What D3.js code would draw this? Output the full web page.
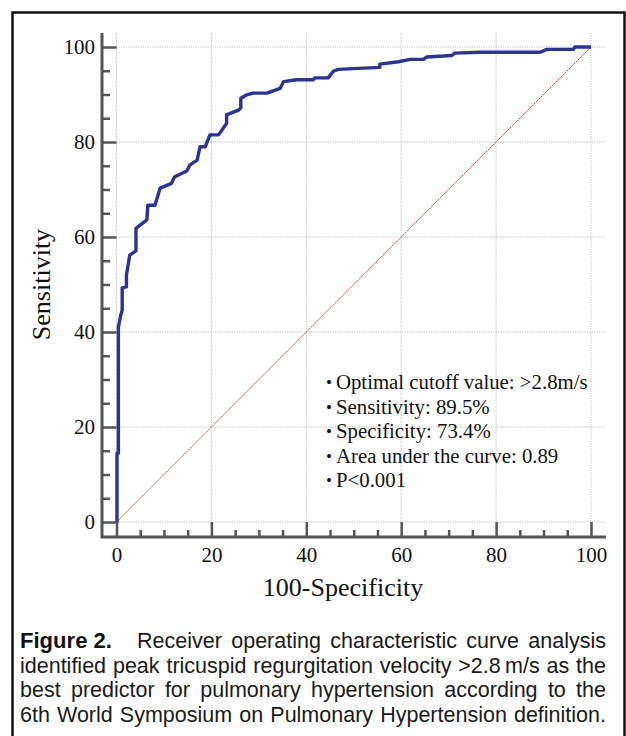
<!DOCTYPE html>
<html>
<head>
<meta charset="utf-8">
<script src="https://cdn.jsdelivr.net/npm/d3@7"></script>
<style>
  html, body { margin: 0; padding: 0; background: #fff; }
  svg { display: block; }
</style>
</head>
<body>
<div id="chart"></div>
<script>
// ROC curve (100-Specificity, Sensitivity)
const fpr = [0, 0.1, 0.1, 0.4, 0.4, 0.9, 1.2, 1.2, 2.1, 2.1, 2.8, 4.1, 4.1, 6.4, 6.6, 8.1, 9.2, 11.6, 11.9, 12.3,
  14.8, 15.5, 17.0, 17.6, 18.7, 19.7, 21.5, 23.2, 23.2, 25.7, 26.2, 26.2, 27.4, 28.8, 31.7, 34.5, 35.2, 38.0,
  41.5, 41.8, 44.6, 45.7, 46.7, 55.5, 55.5, 59.4, 61.9, 64.7, 65.4, 70.6, 71.3, 76.6, 89.3, 90.7, 96.3, 96.6, 100]
const tpr = [0, 0, 14.5, 14.5, 41, 43.6, 44.6, 49.3, 49.5, 52, 56.2, 57.1, 61.8, 63.6, 66.7, 66.7, 70.3, 71.3, 72.0, 72.7,
  73.9, 75.2, 76.2, 79.0, 79.0, 81.5, 81.5, 83.9, 85.7, 86.7, 87.2, 89.2, 89.9, 90.3, 90.3, 91.3, 92.7, 93.1,
  93.1, 93.5, 93.5, 94.9, 95.3, 95.7, 96.4, 96.9, 97.4, 97.4, 97.9, 98.2, 98.7, 98.9, 98.9, 99.5, 99.5, 100, 100]

const majorTicks = [0, 20, 40, 60, 80, 100]
const minorTicks = [5, 10, 15, 25, 30, 35, 45, 50, 55, 65, 70, 75, 85, 90, 95]

const statLines = [
  'Optimal cutoff value: >2.8m/s',
  'Sensitivity: 89.5%',
  'Specificity: 73.4%',
  'Area under the curve: 0.89',
  'P<0.001'
]

const captionLead = 'Figure 2.'
const captionLines = [
  'Receiver operating characteristic curve analysis',
  'identified peak tricuspid regurgitation velocity >2.8\u2009m/s as the',
  'best predictor for pulmonary hypertension according to the',
  '6th World Symposium on Pulmonary Hypertension definition.'
]

const W = 626, H = 736
const serif = '"Liberation Serif", "Times New Roman", serif'
const sans = '"Liberation Sans", Arial, Helvetica, sans-serif'
const axisColor = '#555'

const svg = d3.select('#chart').append('svg')
  .attr('width', W)
  .attr('height', H)

// outer frame (bottom runs off the page)
svg.append('rect')
  .attr('x', 12.5).attr('y', 12.5)
  .attr('width', 612).attr('height', 760)
  .attr('fill', 'none')
  .attr('stroke', '#111')
  .attr('stroke-width', 2.5)

const x = d3.scaleLinear().domain([0, 100]).range([116.5, 591])
const y = d3.scaleLinear().domain([0, 100]).range([522, 47])

const axisX = 102, axisY = 537

// grid
const grid = svg.append('g')
  .attr('stroke', '#bdbdbd')
  .attr('stroke-width', 1)
  .attr('stroke-dasharray', '1.2,1.2')
grid.selectAll('line.h')
  .data(majorTicks)
  .enter().append('line')
    .attr('class', 'h')
    .attr('x1', x(0)).attr('x2', 605)
    .attr('y1', d => y(d)).attr('y2', d => y(d))
grid.selectAll('line.v')
  .data(majorTicks)
  .enter().append('line')
    .attr('class', 'v')
    .attr('y1', 33).attr('y2', y(0))
    .attr('x1', d => x(d)).attr('x2', d => x(d))

// chance diagonal
svg.append('line')
  .attr('x1', x(0)).attr('y1', y(0))
  .attr('x2', x(100)).attr('y2', y(100))
  .attr('stroke', '#c0503a')
  .attr('stroke-width', 1)
  .attr('stroke-dasharray', '2,0.6')

// roc curve
const rocLine = d3.line()
  .x(d => x(d[0]))
  .y(d => y(d[1]))
svg.append('path')
  .datum(fpr.map((v, i) => [v, tpr[i]]))
  .attr('d', rocLine)
  .attr('fill', 'none')
  .attr('stroke', '#2b3493')
  .attr('stroke-width', 3.4)
  .attr('stroke-linejoin', 'round')

// axes
const styleAxis = g => {
  g.select('.domain').remove()
  g.selectAll('line').attr('stroke', axisColor).attr('stroke-width', 2.5)
  g.selectAll('text')
    .attr('fill', '#111')
    .style('font-family', serif)
    .style('font-size', '21px')
}

svg.append('g')
  .attr('transform', `translate(${axisX},0)`)
  .call(d3.axisLeft(y).tickValues(majorTicks).tickSizeInner(-(x(0) - axisX)).tickSizeOuter(0).tickPadding(7))
  .call(styleAxis)
svg.append('g')
  .attr('transform', `translate(${axisX},0)`)
  .call(d3.axisLeft(y).tickValues(minorTicks).tickSizeInner(-8).tickSizeOuter(0).tickFormat(''))
  .call(styleAxis)
svg.append('g')
  .attr('transform', `translate(0,${axisY})`)
  .call(d3.axisBottom(x).tickValues(majorTicks).tickSizeInner(-(axisY - y(0))).tickSizeOuter(0).tickPadding(10))
  .call(styleAxis)
svg.append('g')
  .attr('transform', `translate(0,${axisY})`)
  .call(d3.axisBottom(x).tickValues(minorTicks).tickSizeInner(-7).tickSizeOuter(0).tickFormat(''))
  .call(styleAxis)

// axis lines
svg.append('path')
  .attr('d', `M${axisX},33V${axisY}H606`)
  .attr('fill', 'none')
  .attr('stroke', axisColor)
  .attr('stroke-width', 3)

// axis titles
svg.append('text')
  .attr('transform', `translate(50,${y(50)}) rotate(-90)`)
  .attr('text-anchor', 'middle')
  .style('font-family', serif)
  .style('font-size', '26px')
  .attr('fill', '#111')
  .text('Sensitivity')
svg.append('text')
  .attr('x', 343)
  .attr('y', 596)
  .attr('text-anchor', 'middle')
  .style('font-family', serif)
  .style('font-size', '26px')
  .attr('fill', '#111')
  .text('100-Specificity')

// stats box
const stats = svg.append('g')
  .style('font-family', serif)
  .style('font-size', '20.8px')
  .attr('fill', '#111')
statLines.forEach((s, i) => {
  const t = stats.append('text')
    .attr('x', 326)
    .attr('y', 389 + i * 24.5)
  t.append('tspan').style('font-size', '17px').attr('dy', -1).text('\u2022')
  t.append('tspan').attr('dx', 4).attr('dy', 1).text(s)
})

// caption, justified word by word
const capLeft = 20, capRight = 606
const capBase = 648, capStep = 24.6
const cap = svg.append('g')
  .style('font-family', sans)
  .style('font-size', '21.5px')
  .attr('fill', '#1a1a1a')

svg.append('text')
  .attr('x', capLeft)
  .attr('y', capBase)
  .style('font-family', sans)
  .style('font-size', '21.5px')
  .style('font-weight', 700)
  .attr('fill', '#111')
  .attr('textLength', 92)
  .attr('lengthAdjust', 'spacingAndGlyphs')
  .text(captionLead)

captionLines.forEach((line, i) => {
  const start = i === 0 ? 137 : capLeft
  const words = line.split(' ')
  const nodes = words.map(w => cap.append('text').attr('y', capBase + i * capStep).text(w))
  const widths = nodes.map(n => n.node().getComputedTextLength())
  const total = d3.sum(widths)
  const minGap = 5
  let sx = 1
  let gap = (capRight - start - total) / (words.length - 1)
  if (gap < minGap) {
    sx = (capRight - start - minGap * (words.length - 1)) / total
    gap = minGap
  }
  let cx = start
  nodes.forEach((n, j) => {
    n.attr('transform', `translate(${cx},0) scale(${sx},1)`)
    cx += widths[j] * sx + gap
  })
})
</script>
</body>
</html>
